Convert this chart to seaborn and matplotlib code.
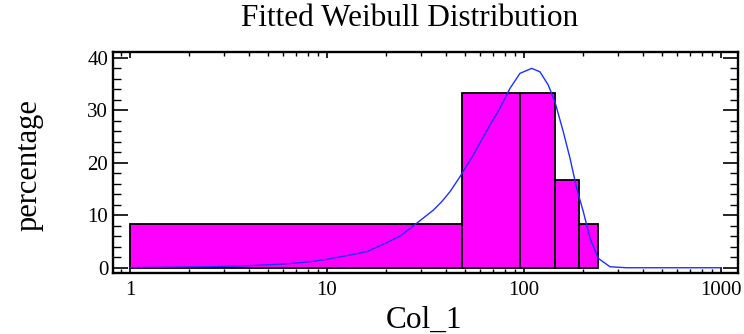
import numpy as np
import matplotlib
matplotlib.use("Agg")
import matplotlib.pyplot as plt
import matplotlib.ticker as mticker
import seaborn as sns

# histogram bins (Col_1) and their share in percent
bin_edges = [1.0, 48.5, 96.0, 143.5, 191.0, 238.5]
bin_pct = [8.33, 33.33, 33.33, 16.67, 8.33]

# fitted Weibull curve (x, percentage)
curve_x = [1.0, 2.55, 3.91, 6.0, 8.2, 9.96, 13.1, 15.9, 20.1, 23.5, 28.5, 34.7, 38.2,
           42.1, 47.3, 55.3, 67.2, 75.5, 84.9, 95.4, 109.4, 120.5, 132.8, 143.6,
           158.3, 171.3, 185.2, 200.1, 216.4, 238.4, 273.3, 332.0, 500.0, 1000.0]
curve_y = [0.02, 0.19, 0.38, 0.70, 1.14, 1.60, 2.42, 3.05, 4.76, 6.04, 8.46, 10.99, 12.57,
           14.48, 17.33, 21.47, 27.18, 30.36, 34.17, 37.03, 37.98, 37.33, 34.8, 31.62,
           25.9, 20.84, 15.12, 10.67, 5.6, 1.79, 0.19, 0.0, 0.0, 0.0]

xticks = [1, 10, 100, 1000]
xtick_labels = ["1", "10", "100", "1000"]
yticks = [0, 10, 20, 30, 40]

sns.set_style("white")
plt.rcParams['font.family'] = ['Liberation Serif', 'DejaVu Serif']
plt.rcParams['text.color'] = 'black'
plt.rcParams['xtick.color'] = 'black'
plt.rcParams['ytick.color'] = 'black'
plt.rcParams['axes.labelcolor'] = 'black'

fig = plt.figure(figsize=(7.44, 3.34), dpi=100)
ax = fig.add_axes([113/744, 1-273/334, (738-113)/744, (273-52)/334])

mids = [(a + b) / 2 for a, b in zip(bin_edges[:-1], bin_edges[1:])]
sns.histplot(x=mids, weights=bin_pct, bins=bin_edges, stat="count",
             color="#ff00ff", alpha=1, edgecolor="black", linewidth=1.3, ax=ax)
sns.lineplot(x=curve_x, y=curve_y, color="#1f2fff", linewidth=1.0, ax=ax)

ax.set_xscale("log")
ax.set_xlim(0.82, 1220)
ax.set_ylim(-1.0, 41.1)

ax.set_xticks(xticks)
ax.set_xticklabels(xtick_labels)
ax.xaxis.set_minor_locator(mticker.LogLocator(base=10, subs=np.arange(2, 10)))
ax.xaxis.set_minor_formatter(mticker.NullFormatter())
ax.set_yticks(yticks)
ax.yaxis.set_minor_locator(mticker.MultipleLocator(2))

ax.tick_params(axis="x", which="major", direction="in", length=4, width=1.2,
               top=True, bottom=True, labelsize=15, pad=5.5)
ax.tick_params(axis="x", which="minor", direction="in", length=3, width=1,
               top=True, bottom=True)
ax.tick_params(axis="y", which="major", direction="in", length=11, width=1.2,
               left=True, right=True, labelsize=15, pad=3.5)
ax.tick_params(axis="y", which="minor", direction="in", length=6, width=1,
               left=True, right=True)

for s in ax.spines.values():
    s.set_color("black")
    s.set_linewidth(1.7)

ax.set_xlabel("")
ax.set_ylabel("")
fig.text(424/744, 1-328/334, "Col_1", fontsize=22.5, ha="center", va="baseline")
fig.text(29/744, 1-165/334, "percentage", fontsize=22, rotation=90,
         ha="center", va="center")
fig.text(410/744, 1-26/334, "Fitted Weibull Distribution", fontsize=22.5,
         ha="center", va="baseline")

fig.savefig("out.png", dpi=100)
